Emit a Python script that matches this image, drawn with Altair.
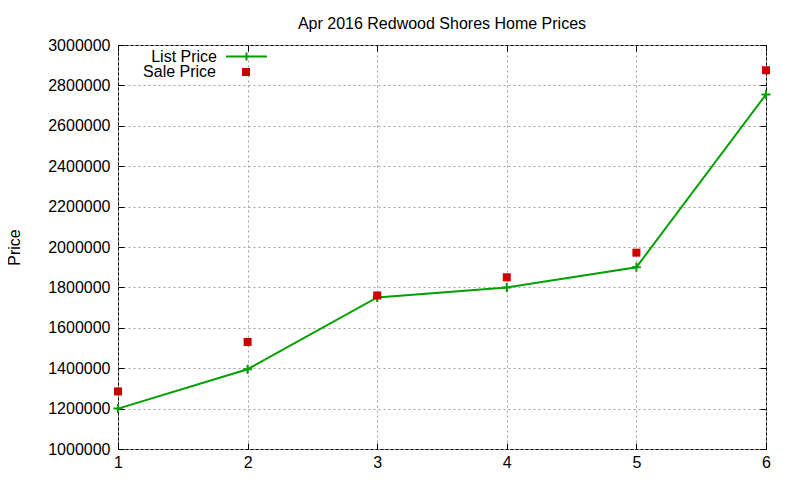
import altair as alt
import pandas as pd

months = [1, 2, 3, 4, 5, 6]
list_price = [1200000, 1395000, 1750000, 1800000, 1900000, 2755000]
sale_price = [1285000, 1530000, 1760000, 1850000, 1972000, 2875000]
x_ticks = [1, 2, 3, 4, 5, 6]
y_ticks = [1000000, 1200000, 1400000, 1600000, 1800000, 2000000,
           2200000, 2400000, 2600000, 2800000, 3000000]

GREEN = "#00a000"
RED = "#cc0000"
FONT = "Liberation Sans"
FS = 16

list_df = pd.DataFrame({"month": months, "price": list_price, "series": ["List Price"] * len(months)})
sale_df = pd.DataFrame({"month": months, "price": sale_price, "sale": ["Sale Price"] * len(months)})

xscale = alt.Scale(domain=[1, 6], nice=False, zero=False)
yscale = alt.Scale(domain=[1000000, 3000000], nice=False, zero=False)


def tick_axis(orient, values):
    return alt.Axis(orient=orient, values=values, offset=-6, tickSize=6, ticks=True,
                    tickColor="black", tickWidth=1, labels=False, domain=False,
                    grid=False, title=None)


main_x = alt.Axis(orient="bottom", values=x_ticks, ticks=False, tickSize=0, domain=False,
                  grid=True, gridDash=[2, 3], gridColor="#a0a0a0", gridWidth=1,
                  labelPadding=5, labelFontSize=FS, labelFont=FONT, labelColor="black",
                  labelFlush=False, labelOverlap=False,
                  format="d", title=None)
main_y = alt.Axis(orient="left", values=y_ticks, ticks=False, tickSize=0, domain=False,
                  grid=True, gridDash=[2, 3], gridColor="#a0a0a0", gridWidth=1,
                  labelPadding=8, labelFontSize=FS, labelFont=FONT, labelColor="black",
                  labelFlush=False, labelOverlap=False,
                  format="d", title="Price", titleFont=FONT, titleFontSize=FS,
                  titleFontWeight="normal", titleColor="black", titleX=-104, titleY=202,
                  titleAngle=270, titleBaseline="middle", titleAlign="center")

list_legend = alt.Legend(title=None, orient="none", legendX=107, legendY=-10,
                         symbolType="M-1,0H1M0,-0.2V0.2", symbolSize=1681,
                         symbolStrokeWidth=2, symbolFillColor="transparent",
                         labelAlign="right", labelOffset={"expr": "-51"}, labelFontSize=FS,
                         labelFont=FONT, labelColor="black", padding=0)
sale_legend = alt.Legend(title=None, orient="none", legendX=120, legendY=19,
                         symbolType="square", symbolSize=64, symbolStrokeWidth=0,
                         labelAlign="right", labelOffset={"expr": "-38"}, labelFontSize=FS,
                         labelFont=FONT, labelColor="black", padding=0)

list_color = alt.Color("series:N", scale=alt.Scale(domain=["List Price"], range=[GREEN]),
                       legend=list_legend)

line = alt.Chart(list_df).mark_line(strokeWidth=2).encode(
    x=alt.X("month:Q", scale=xscale, axis=main_x),
    y=alt.Y("price:Q", scale=yscale, axis=main_y),
    color=list_color,
)

crosses = alt.Chart(list_df).mark_point(shape="M-1,0H1M0,-1V1", filled=False, size=81,
                                        strokeWidth=2, opacity=1).encode(
    x=alt.X("month:Q", scale=xscale, axis=tick_axis("bottom", x_ticks)),
    y=alt.Y("price:Q", scale=yscale, axis=tick_axis("left", y_ticks)),
    color=list_color,
)

squares = alt.Chart(sale_df).mark_square(size=64, filled=True, opacity=1, strokeWidth=0).encode(
    x=alt.X("month:Q", scale=xscale, axis=tick_axis("top", x_ticks)),
    y=alt.Y("price:Q", scale=yscale, axis=tick_axis("right", y_ticks)),
    fill=alt.Fill("sale:N", scale=alt.Scale(domain=["Sale Price"], range=[RED]),
                  legend=sale_legend),
)

chart = alt.layer(line, crosses, squares).resolve_axis(
    x="independent", y="independent"
).properties(
    width=648, height=404,
    title=alt.TitleParams("Apr 2016 Redwood Shores Home Prices", font=FONT, fontSize=FS,
                          fontWeight="normal", color="black", anchor="middle",
                          baseline="alphabetic", offset=15, dy=25),
    autosize=alt.AutoSizeParams(type="none"),
    padding={"left": 110, "top": 37, "right": 26, "bottom": 23},
    background="white",
).configure_view(stroke="black", strokeWidth=1)

chart.save("out.html", embed_options={"renderer": "svg", "actions": False})
